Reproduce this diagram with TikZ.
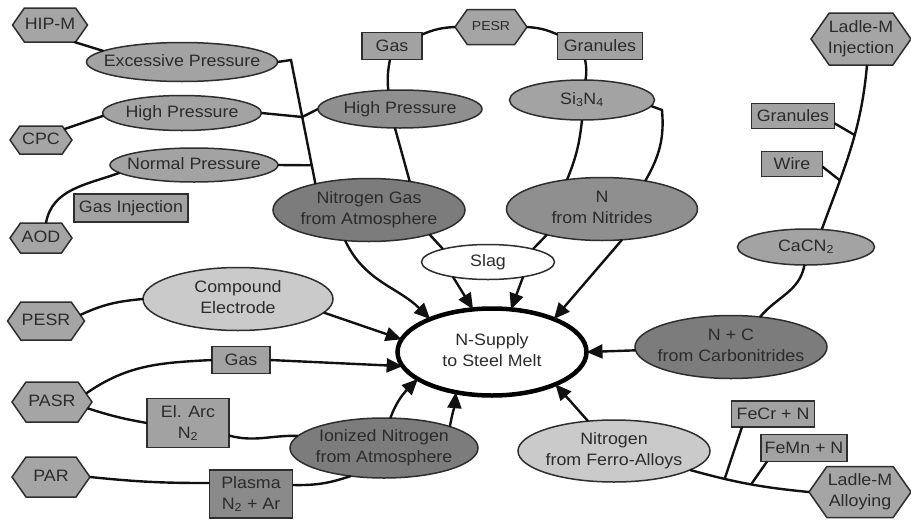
\documentclass[tikz,border=0pt]{standalone}
\usepackage{fontspec}
\setmainfont{Liberation Sans}[FakeStretch=1.08]
\usetikzlibrary{shapes.geometric,shapes.symbols,arrows.meta,calc}
\definecolor{txt}{HTML}{2B2B2B}
\definecolor{bord}{HTML}{2E2E2E}
\definecolor{hexf}{HTML}{A5A5A5}
\definecolor{boxf}{HTML}{A2A2A2}
\definecolor{midf}{HTML}{A3A3A3}
\definecolor{midtwo}{HTML}{8F8F8F}
\definecolor{darkf}{HTML}{7C7C7C}
\definecolor{lightf}{HTML}{CACACA}
\definecolor{plasf}{HTML}{8A8A8A}
\definecolor{linec}{HTML}{111111}
\newcommand{\zw}[1]{\makebox[0pt]{\begin{tabular}{@{}c@{}}#1\end{tabular}}}
\begin{document}
\begin{tikzpicture}[x=1pt,y=-1pt,
  every node/.style={font=\fontsize{16.5}{21}\selectfont, text=txt},
  base/.style={draw=bord, line width=1.5, inner sep=0pt, outer sep=0pt},
  ell/.style 2 args={base, ellipse, minimum width=#1, minimum height=#2},
  hexa/.style 2 args={base, signal, signal to=west and east, signal pointer angle=110, fill=hexf, minimum width=#1, minimum height=#2},
  boxn/.style 2 args={base, rectangle, fill=boxf, minimum width=#1, minimum height=#2},
  conn/.style={draw=linec, line width=2.4},
  arr/.style={conn, -{Triangle[length=16pt,width=14pt]}},
]
\useasboundingbox (0,0) rectangle (911,520);

% hexagons
\node[hexa={75}{34}] (hip) at (50,25) {\zw{HIP-M}};
\node[hexa={62}{28}] (cpc) at (41,140) {\zw{CPC}};
\node[hexa={62}{30}] (aod) at (41,238) {\zw{AOD}};
\node[hexa={72}{35}, font=\fontsize{13}{16}\selectfont] (pesrt) at (491,27) {\zw{PESR}};
\node[hexa={100}{52}] (ladi) at (861,39) {\zw{Ladle-M\\Injection}};
\node[hexa={77}{38}] (pesrl) at (46,321) {\zw{PESR}};
\node[hexa={80}{40}] (pasr) at (52,402) {\zw{PASR}};
\node[hexa={78}{40}] (par) at (51,477) {\zw{PAR}};
\node[hexa={102}{51}] (lada) at (860,492) {\zw{Ladle-M\\Alloying}};

% ellipses
\node[ell={191}{39}, fill=midf] (exc) at (182,62) {\zw{Excessive Pressure}};
\node[ell={159}{35}, fill=midf] (hpl) at (182,113) {\zw{High Pressure}};
\node[ell={168}{34}, fill=midf] (np) at (194,165) {\zw{Normal Pressure}};
\node[ell={164}{38}, fill=midtwo] (hpm) at (400,109) {\zw{High Pressure}};
\node[ell={145}{40}, fill=midf] (si) at (582,100) {\zw{Si\textsubscript{3}N\textsubscript{4}}};
\node[ell={192}{63}, fill=darkf] (ngas) at (369,210) {\zw{Nitrogen Gas\\from Atmosphere}};
\node[ell={191}{63}, fill=midtwo] (nnit) at (602,209) {\zw{N\\from Nitrides}};
\node[ell={133}{35}, fill=white] (slag) at (488,262) {\zw{Slag}};
\node[ell={137}{36}, fill=midf] (cacn) at (806,247) {\zw{CaCN\textsubscript{2}}};
\node[ell={192}{63}, fill=darkf] (nc) at (731,347) {\zw{N + C\\from Carbonitrides}};
\node[ell={190}{63}, fill=lightf] (comp) at (238,299) {\zw{Compound\\Electrode}};
\node[ell={189}{87}, fill=white, draw=black, line width=4.5] (sup) at (492,352) {\zw{N-Supply\\to Steel Melt}};
\node[ell={188}{60}, fill=darkf] (ion) at (384,448) {\zw{Ionized Nitrogen\\from Atmosphere}};
\node[ell={192}{62}, fill=lightf] (ferro) at (614,451) {\zw{Nitrogen\\from Ferro-Alloys}};

% boxes
\node[boxn={114}{28}] (gasinj) at (131,208) {Gas Injection};
\node[boxn={60}{27}] (gast) at (392,46) {Gas};
\node[boxn={85}{27}] (grant) at (600,46) {Granules};
\node[boxn={83}{25}] (granr) at (793,116) {Granules};
\node[boxn={61}{25}] (wire) at (792,164) {Wire};
\node[boxn={58}{27}] (gasb) at (241,360) {Gas};
\node[boxn={82}{49}, align=center] (elarc) at (188,423) {El. Arc\\N\textsubscript{2}};
\node[boxn={83}{48}, fill=plasf, align=center] (plasma) at (251,494) {Plasma\\N\textsubscript{2} + Ar};
\node[boxn={83}{26}] (fecr) at (773,414) {FeCr + N};
\node[boxn={86}{27}] (femn) at (804,448) {FeMn + N};

% left pressure tree
\coordinate (t1) at (291,60);
\coordinate (j1) at ($(t1)!0.46!(ngas.154)$);
\coordinate (j2) at ($(t1)!0.85!(ngas.154)$);
\draw[conn] (hip.-35) -- (exc.172);
\draw[conn] (exc.east) -- (t1) -- (ngas.154);
\draw[conn] (hpl.east) -- (j1) -- (hpm.west);
\draw[conn] (np.east) -- (j2);
\draw[conn] (cpc.25) -- (hpl.182);
\draw[conn] ([xshift=5pt]aod.north) to[out=80,in=200] (np.186);

% top
\draw[conn] ([yshift=-2pt]gast.north east) to[bend left=10] (pesrt.west);
\draw[conn] (pesrt.east) to[bend left=10] ([yshift=-2pt]grant.north west);
\draw[conn] ([xshift=-2pt]gast.south) to[bend right=8] (hpm.122);
\draw[conn] (hpm.255) -- (ngas.35);
\draw[conn] ([xshift=-15pt]grant.south) to[bend left=10] (si.80);
\draw[conn] (si.south) to[bend left=8] (nnit.140);
\coordinate (sk) at (662,110);
\draw[conn] (si.-5) -- (sk) to[out=-85,in=60] (nnit.33);

% into the centre
\draw[arr] (ngas.232) to[out=-65,in=135] (sup.152);
\draw[conn] (ngas.-22) -- (slag.164);
\draw[conn] (nnit.205) -- (slag.16);
\draw[arr] (slag.203) -- (sup.114);
\draw[arr] (slag.-23) -- (sup.66);
\draw[arr] (nnit.303) -- (sup.28);
\draw[arr] (comp.-9) -- (sup.172);
\draw[conn] (pesrl.10) to[out=25,in=185] (comp.west);
\draw[arr] (gasb.east) -- (sup.189);
\draw[conn] (pasr.14) to[out=35,in=183] (gasb.west);
\draw[conn] (pasr.-10) to[bend right=4] (elarc.west);
\draw[conn] (elarc.-17) to[out=-15,in=178] (ion.172);
\draw[conn] (par.east) to[bend right=3] ([yshift=11pt]plasma.west);
\draw[conn] ([yshift=9pt]plasma.east) to[bend right=10] (ion.220);
\draw[arr] (ion.78) to[out=70,in=225] (sup.200);
\draw[arr] (ion.18) to[out=80,in=-95] (sup.228);
\draw[arr] (ferro.131) -- (sup.333);
\draw[arr] (nc.182) -- (sup.east);

% right side
\draw[conn] (cacn.265) to[out=-100,in=50] (nc.46);
\draw[conn] ([xshift=6pt]ladi.south) to[out=-95,in=70] coordinate[pos=0.41] (j3) coordinate[pos=0.71] (j4) (cacn.48);
\draw[conn] (granr.-10) -- (j3);
\draw[conn] (wire.-5) -- (j4);
\draw[conn] (ferro.-14) to[bend right=5] coordinate[pos=0.28] (j5) coordinate[pos=0.52] (j6) (lada.west);
\draw[conn] ([xshift=-31pt]fecr.south) -- (j5);
\draw[conn] ([xshift=-37pt]femn.south) -- (j6);
\end{tikzpicture}
\end{document}
